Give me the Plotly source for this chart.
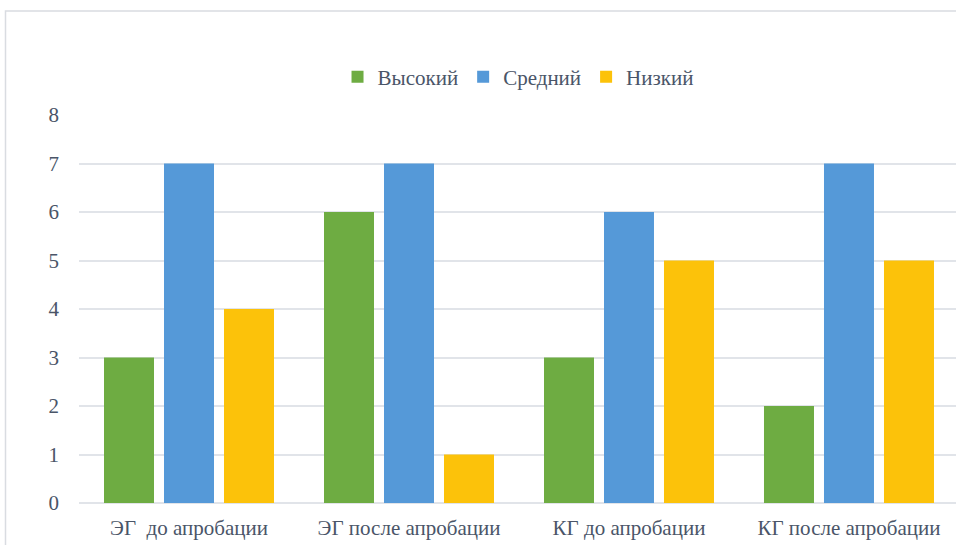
import plotly.graph_objects as go

categories = ["ЭГ\u00a0 до апробации", "ЭГ после апробации", "КГ до апробации", "КГ после апробации"]
series_names = ["Высокий", "Средний", "Низкий"]
high = [3, 6, 3, 2]
medium = [7, 7, 6, 7]
low = [4, 1, 5, 5]
colors = ["#6eac42", "#5599d8", "#fcc20a"]
yticks = [0, 1, 2, 3, 4, 5, 6, 7, 8]

font = dict(family="Times New Roman", size=21, color="#4a5568")

fig = go.Figure()
for name, vals, c in zip(series_names, [high, medium, low], colors):
    fig.add_trace(go.Bar(x=categories, y=vals, name=name, marker=dict(color=c, line=dict(width=0))))

fig.update_layout(
    width=956, height=545,
    margin=dict(l=79, r=0, t=115, b=42),
    paper_bgcolor="white", plot_bgcolor="white",
    barmode="group", bargap=40/220, bargroupgap=1/6,
    font=font,
    showlegend=True,
    legend=dict(orientation="h", x=0.5006, xanchor="center", y=1.098, yanchor="middle",
                font=font, itemwidth=30, traceorder="normal"),
    xaxis=dict(range=[-0.5, 3.4864], showgrid=False, showline=False, ticks="",
               tickfont=font, ticklabelstandoff=10),
    yaxis=dict(range=[0, 8], tickvals=yticks, showgrid=True, gridcolor="#e1e4e9", gridwidth=1.5,
               zeroline=True, zerolinecolor="#e1e4e9", zerolinewidth=1.5,
               showline=False, ticks="", tickfont=font, ticklabelstandoff=19),
    shapes=[dict(type="rect", xref="paper", yref="paper",
                 x0=(5.5-79)/877, x1=1.2, y0=-0.3, y1=(503-11)/388,
                 line=dict(color="#d9dce1", width=1.5), fillcolor="rgba(0,0,0,0)", layer="below")],
)

fig.write_html("out.html", config={"displayModeBar": False},
               post_script="document.body.style.margin='0';")
